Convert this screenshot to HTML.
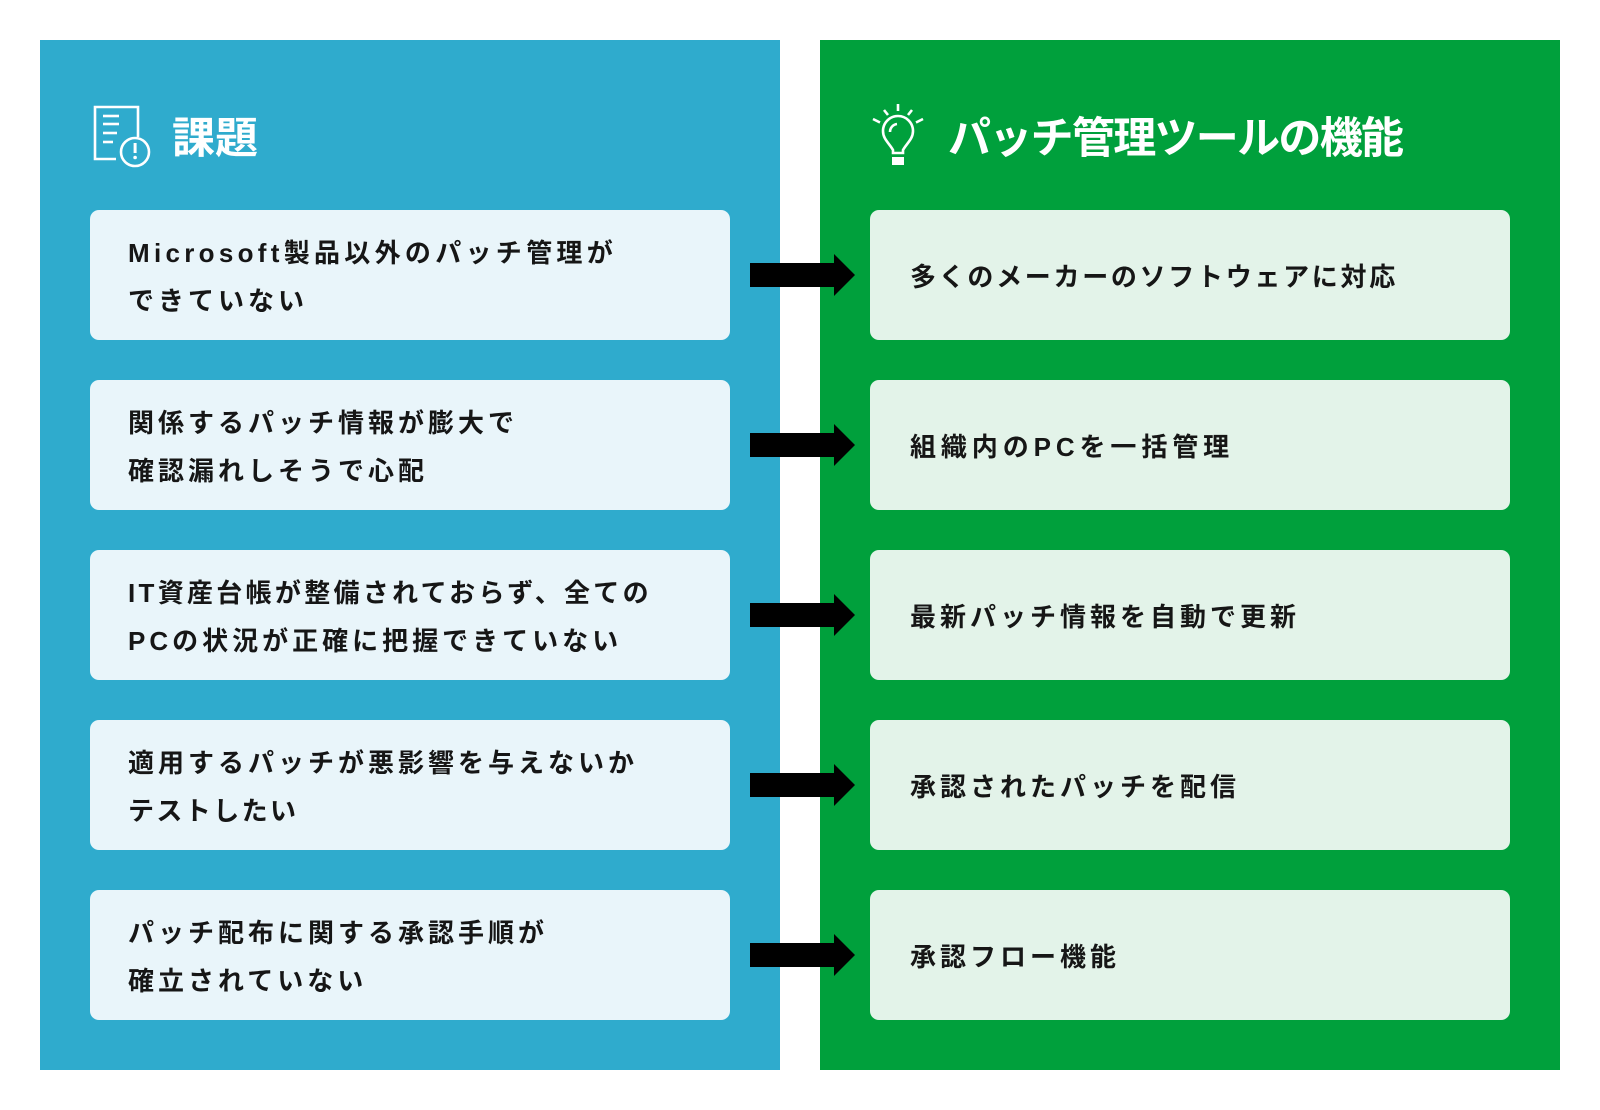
<!DOCTYPE html>
<html lang="ja">
<head>
<meta charset="utf-8">
<style>
  html, body { margin: 0; padding: 0; }
  body {
    width: 1600px; height: 1110px; position: relative; overflow: hidden;
    background: #ffffff;
    font-family: "Liberation Sans", "Noto Sans CJK JP", sans-serif;
  }
  .panel { position: absolute; top: 40px; height: 1030px; width: 740px; }
  .blue { left: 40px; background: #2fabcd; }
  .green { left: 820px; background: #00a03c; }
  .title {
    position: absolute; top: 113px; height: 52px; line-height: 52px;
    color: #ffffff; font-size: 43px; font-weight: 700; white-space: nowrap;
  }
  .card {
    position: absolute; width: 640px; height: 130px; border-radius: 9px;
    box-sizing: border-box; padding-left: 38px; padding-top: 4px;
    display: flex; align-items: center;
    font-size: 26px; font-weight: 700; letter-spacing: 4px; line-height: 48px;
    color: #161616; white-space: nowrap;
  }
  .lc { left: 90px; background: #e9f5fa; }
  .rc { left: 870px; background: #e3f3e9; padding-left: 40px; }
  svg.abs { position: absolute; left: 0; top: 0; }
</style>
</head>
<body>
  <div class="panel blue"></div>
  <div class="panel green"></div>

  <svg class="abs" width="1600" height="1110" viewBox="0 0 1600 1110">
    <!-- document icon -->
    <g fill="none" stroke="#ffffff" stroke-width="2.6" stroke-linecap="butt">
      <polyline points="138,137 138,107 95,107 95,159 116,159"/>
      <line x1="103" y1="116" x2="119" y2="116"/>
      <line x1="103" y1="124" x2="119" y2="124"/>
      <line x1="103" y1="133" x2="117" y2="133"/>
      <line x1="103" y1="142" x2="113" y2="142"/>
      <circle cx="135" cy="152" r="14"/>
    </g>
    <rect x="133.6" y="143" width="3" height="10" fill="#ffffff"/>
    <circle cx="135.1" cy="157.5" r="1.8" fill="#ffffff"/>

    <!-- bulb icon -->
    <g fill="none" stroke="#ffffff" stroke-width="2.6" stroke-linecap="butt">
      <line x1="898" y1="104" x2="898" y2="111"/>
      <line x1="884" y1="110" x2="888" y2="115"/>
      <line x1="912" y1="110" x2="908" y2="115"/>
      <line x1="873" y1="119" x2="880" y2="122.5"/>
      <line x1="923" y1="119" x2="916" y2="122.5"/>
      <path d="M893,153 L893,150 C889,143 883,139 883,131 A15,15 0 0 1 913,131 C913,139 907,143 903,150 L903,153 Z"/>
      <path d="M890,132 A8,8 0 0 1 897,124"/>
    </g>
    <rect x="892" y="157" width="12" height="8" fill="#ffffff"/>

    <!-- arrows -->
    <g fill="#000000">
      <polygon points="750,263 834,263 834,254 855,275 834,296 834,287 750,287"/>
      <polygon points="750,433 834,433 834,424 855,445 834,466 834,457 750,457"/>
      <polygon points="750,603 834,603 834,594 855,615 834,636 834,627 750,627"/>
      <polygon points="750,773 834,773 834,764 855,785 834,806 834,797 750,797"/>
      <polygon points="750,943 834,943 834,934 855,955 834,976 834,967 750,967"/>
    </g>
  </svg>

  <div class="title" style="left:172px;">課題</div>
  <div class="title" style="left:948px; letter-spacing:-1.7px;">パッチ管理ツールの機能</div>

  <!-- left cards -->
  <div class="card lc" style="top:210px;"><div><span style="letter-spacing:4.3px">Microsoft製品以外のパッチ管理が</span><br>できていない</div></div>
  <div class="card lc" style="top:380px;"><div>関係するパッチ情報が膨大で<br>確認漏れしそうで心配</div></div>
  <div class="card lc" style="top:550px;"><div><span style="letter-spacing:3.3px">IT資産台帳が整備されておらず、全ての</span><br>PCの状況が正確に把握できていない</div></div>
  <div class="card lc" style="top:720px;"><div>適用するパッチが悪影響を与えないか<br><span style="letter-spacing:2.4px">テストしたい</span></div></div>
  <div class="card lc" style="top:890px;"><div>パッチ配布に関する承認手順が<br>確立されていない</div></div>

  <!-- right cards -->
  <div class="card rc" style="top:210px;"><div style="letter-spacing:2.7px">多くのメーカーのソフトウェアに対応</div></div>
  <div class="card rc" style="top:380px;"><div style="letter-spacing:4.9px">組織内のPCを一括管理</div></div>
  <div class="card rc" style="top:550px;"><div>最新パッチ情報を自動で更新</div></div>
  <div class="card rc" style="top:720px;"><div>承認されたパッチを配信</div></div>
  <div class="card rc" style="top:890px;"><div>承認フロー機能</div></div>
</body>
</html>
